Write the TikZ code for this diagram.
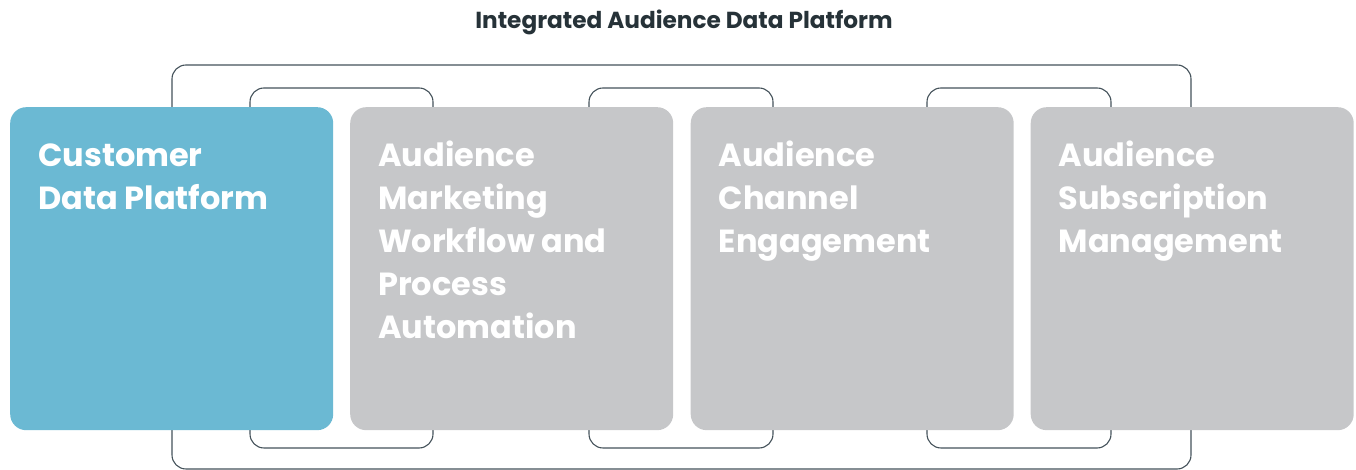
\documentclass[tikz,border=0pt]{standalone}
\usepackage{fontspec}
\setmainfont{Poppins}
\definecolor{cdpblue}{HTML}{6BB9D3}
\definecolor{boxgrey}{HTML}{C6C7C9}
\definecolor{linegrey}{HTML}{44525A}
\definecolor{titlecol}{HTML}{263238}
\begin{document}
\begin{tikzpicture}[x=1pt,y=1pt,
  frame/.style={draw=linegrey,line width=1.1pt,rounded corners=14pt},
  tile/.style={rounded corners=16pt,draw=none,minimum width=323pt,minimum height=323pt,inner sep=0pt,anchor=north west},
  tiletext/.style={anchor=base west,align=left,inner sep=0pt,text=white,font=\fontsize{32}{43}\selectfont\bfseries}]
\useasboundingbox (0,0) rectangle (1356,470);
\node[font=\fontsize{23.2}{27}\selectfont\bfseries,text=titlecol,anchor=base] (title) at (684,441) {Integrated Audience Data Platform};
% outlines
\draw[frame] (172,1) rectangle (1191,405);
\draw[frame] (250,22) rectangle (433,382);
\draw[frame] (589,22) rectangle (773,382);
\draw[frame] (927,22) rectangle (1111,382);
% tiles
\node[tile,fill=cdpblue] (b1) at (10,363) {};
\node[tile,fill=boxgrey] (b2) at (350,363) {};
\node[tile,fill=boxgrey] (b3) at (690.5,363) {};
\node[tile,fill=boxgrey] (b4) at (1030.5,363) {};
\node[tiletext] (t1) at (38,260) {Customer\\Data Platform};
\node[tiletext] (t2) at (378,131) {Audience\\Marketing\\Workflow and\\Process\\Automation};
\node[tiletext] (t3) at (718.5,217) {Audience\\Channel\\Engagement};
\node[tiletext] (t4) at (1058.5,217) {Audience\\Subscription\\Management};
\end{tikzpicture}
\end{document}
